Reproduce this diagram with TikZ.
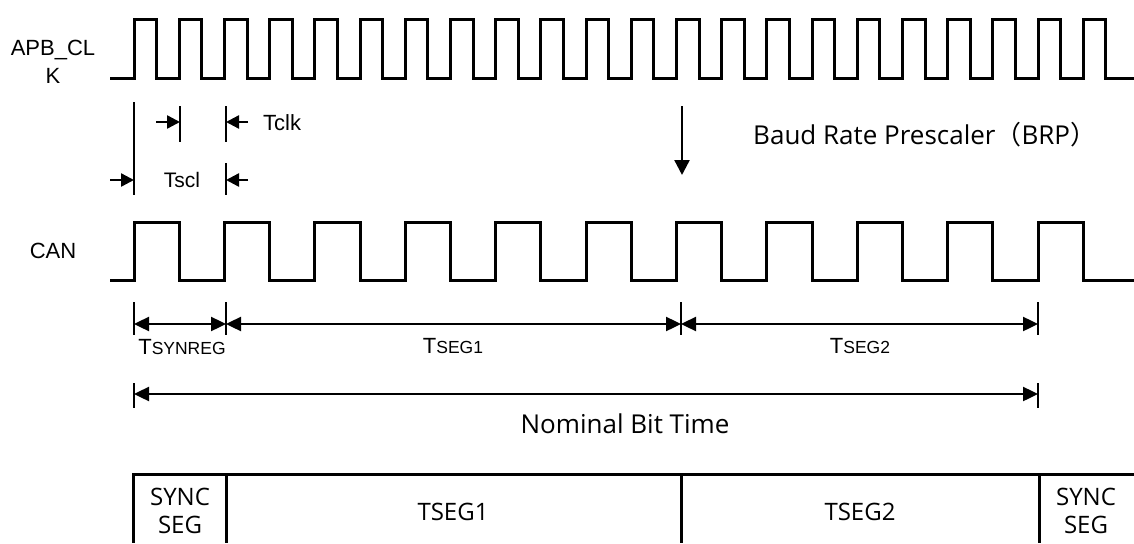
\documentclass[tikz,border=0pt]{standalone}
\usepackage{fontspec}
\setmainfont{Liberation Sans}
\newfontfamily\hmfont{Open Sans}
\newfontfamily\cjkfont{Noto Sans CJK SC}
\usetikzlibrary{arrows.meta}
\tikzset{
    sig/.style = {line width=3pt, line join=miter},
    tick/.style = {line width=2.4pt},
    seg/.style = {line width=3pt},
    dim/.style = {line width=2.4pt, {Triangle[length=15pt,width=14pt]}-{Triangle[length=15pt,width=14pt]}},
    arr/.style = {line width=2.4pt, -{Triangle[length=13pt,width=13pt]}},
    lbl/.style = {inner sep=0pt, font=\fontsize{22pt}{28pt}\selectfont},
    tlbl/.style = {inner sep=0pt, anchor=base, font=\fontsize{17.5pt}{21pt}\selectfont},
    hlbl/.style = {inner sep=0pt, font=\hmfont\fontsize{24pt}{28pt}\selectfont}
}
\newcommand{\tbig}[1]{{\fontsize{22pt}{22pt}\selectfont T}#1}

\begin{document}
\begin{tikzpicture}[x=1pt,y=-1pt]
    \useasboundingbox (0,0) rectangle (1134,543);
    % clock and can signals
    \draw[sig] (110,78) \foreach \k in {0,...,21}{ -- ({134+45.2*\k},78) -- ++(0,-58) -- ++(22.6,0) -- ++(0,58) } -- (1134,78);
    \draw[sig] (110,280) \foreach \k in {0,...,10}{ -- ({134+90.4*\k},280) -- ++(0,-58) -- ++(45.2,0) -- ++(0,58) } -- (1134,280);
    \node[lbl, align=center] (apb) at (53,62) {APB\_CL\\K};
    \node[lbl] (can) at (53,251) {CAN};

    % tclk / tscl
    \coordinate (ck1) at (180,122);
    \coordinate (ck2) at (226,122);
    \coordinate (cs1) at (134,180);
    \coordinate (cs2) at (226,180);
    \draw[tick] (134,102) -- (134,195);
    \draw[tick] (ck1) ++(0,-16) -- ++(0,36);
    \draw[tick] (ck2) ++(0,-16) -- ++(0,36);
    \draw[tick] (cs2) ++(0,-17) -- ++(0,32);
    \draw[arr] (ck1) ++(-24,0) -- (ck1);
    \draw[arr] (ck2) ++(22,0) -- (ck2);
    \draw[arr] (cs1) ++(-24,0) -- (cs1);
    \draw[arr] (cs2) ++(22,0) -- (cs2);
    \node[lbl, font=\fontsize{22pt}{24pt}\selectfont, anchor=base west] (tclk) at (263,130) {Tclk};
    \node[lbl, font=\fontsize{21pt}{24pt}\selectfont, anchor=base] (tscl) at (182,187) {Tscl};

    % brp
    \coordinate (brp) at (682,106);
    \draw[line width=2.4pt, -{Triangle[length=15pt,width=15pt]}] (brp) -- ++(0,69);
    \node[hlbl, font=\hmfont\fontsize{26pt}{28pt}\selectfont, anchor=base west] (brptxt) at (753,144)
        {Baud Rate Prescaler{\cjkfont（}BRP{\cjkfont）}};

    % segments
    \coordinate (s0) at (134,324);
    \coordinate (s1) at (226,324);
    \coordinate (s2) at (681,324);
    \coordinate (s3) at (1038,324);
    \foreach \n in {s0,s1,s2,s3}
        \draw[tick] (\n) ++(0,-22) -- ++(0,33);
    \draw[dim] (s0) -- (s1);
    \draw[dim] (s1) -- (s2);
    \draw[dim] (s2) -- (s3);
    \node[tlbl] (tsyn) at (182,354) {\tbig{SYNREG}};
    \node[tlbl] (tseg1) at (453,353) {\tbig{SEG1}};
    \node[tlbl] (tseg2) at (860,353) {\tbig{SEG2}};

    % nominal bit time
    \coordinate (n0) at (134,394);
    \coordinate (n1) at (1038,394);
    \draw[tick] (n0) ++(0,-11) -- ++(0,25);
    \draw[tick] (n1) ++(0,-11) -- ++(0,25);
    \draw[dim] (n0) -- (n1);
    \node[hlbl, font=\hmfont\fontsize{26pt}{28pt}\selectfont, anchor=base] (nbt) at (625,433) {Nominal Bit Time};

    % bit frame
    \draw[seg] (1134,474) -- (133,474) -- (133,543);
    \foreach \x in {226,681,1039}
        \draw[seg] (\x,474) -- (\x,543);
    \node[hlbl, align=center] (sync1) at (180,511) {SYNC\\SEG};
    \node[hlbl, anchor=base] (seg1) at (453,520) {TSEG1};
    \node[hlbl, anchor=base] (seg2) at (860,520) {TSEG2};
    \node[hlbl, align=center] (sync2) at (1086,511) {SYNC\\SEG};
\end{tikzpicture}
\end{document}
